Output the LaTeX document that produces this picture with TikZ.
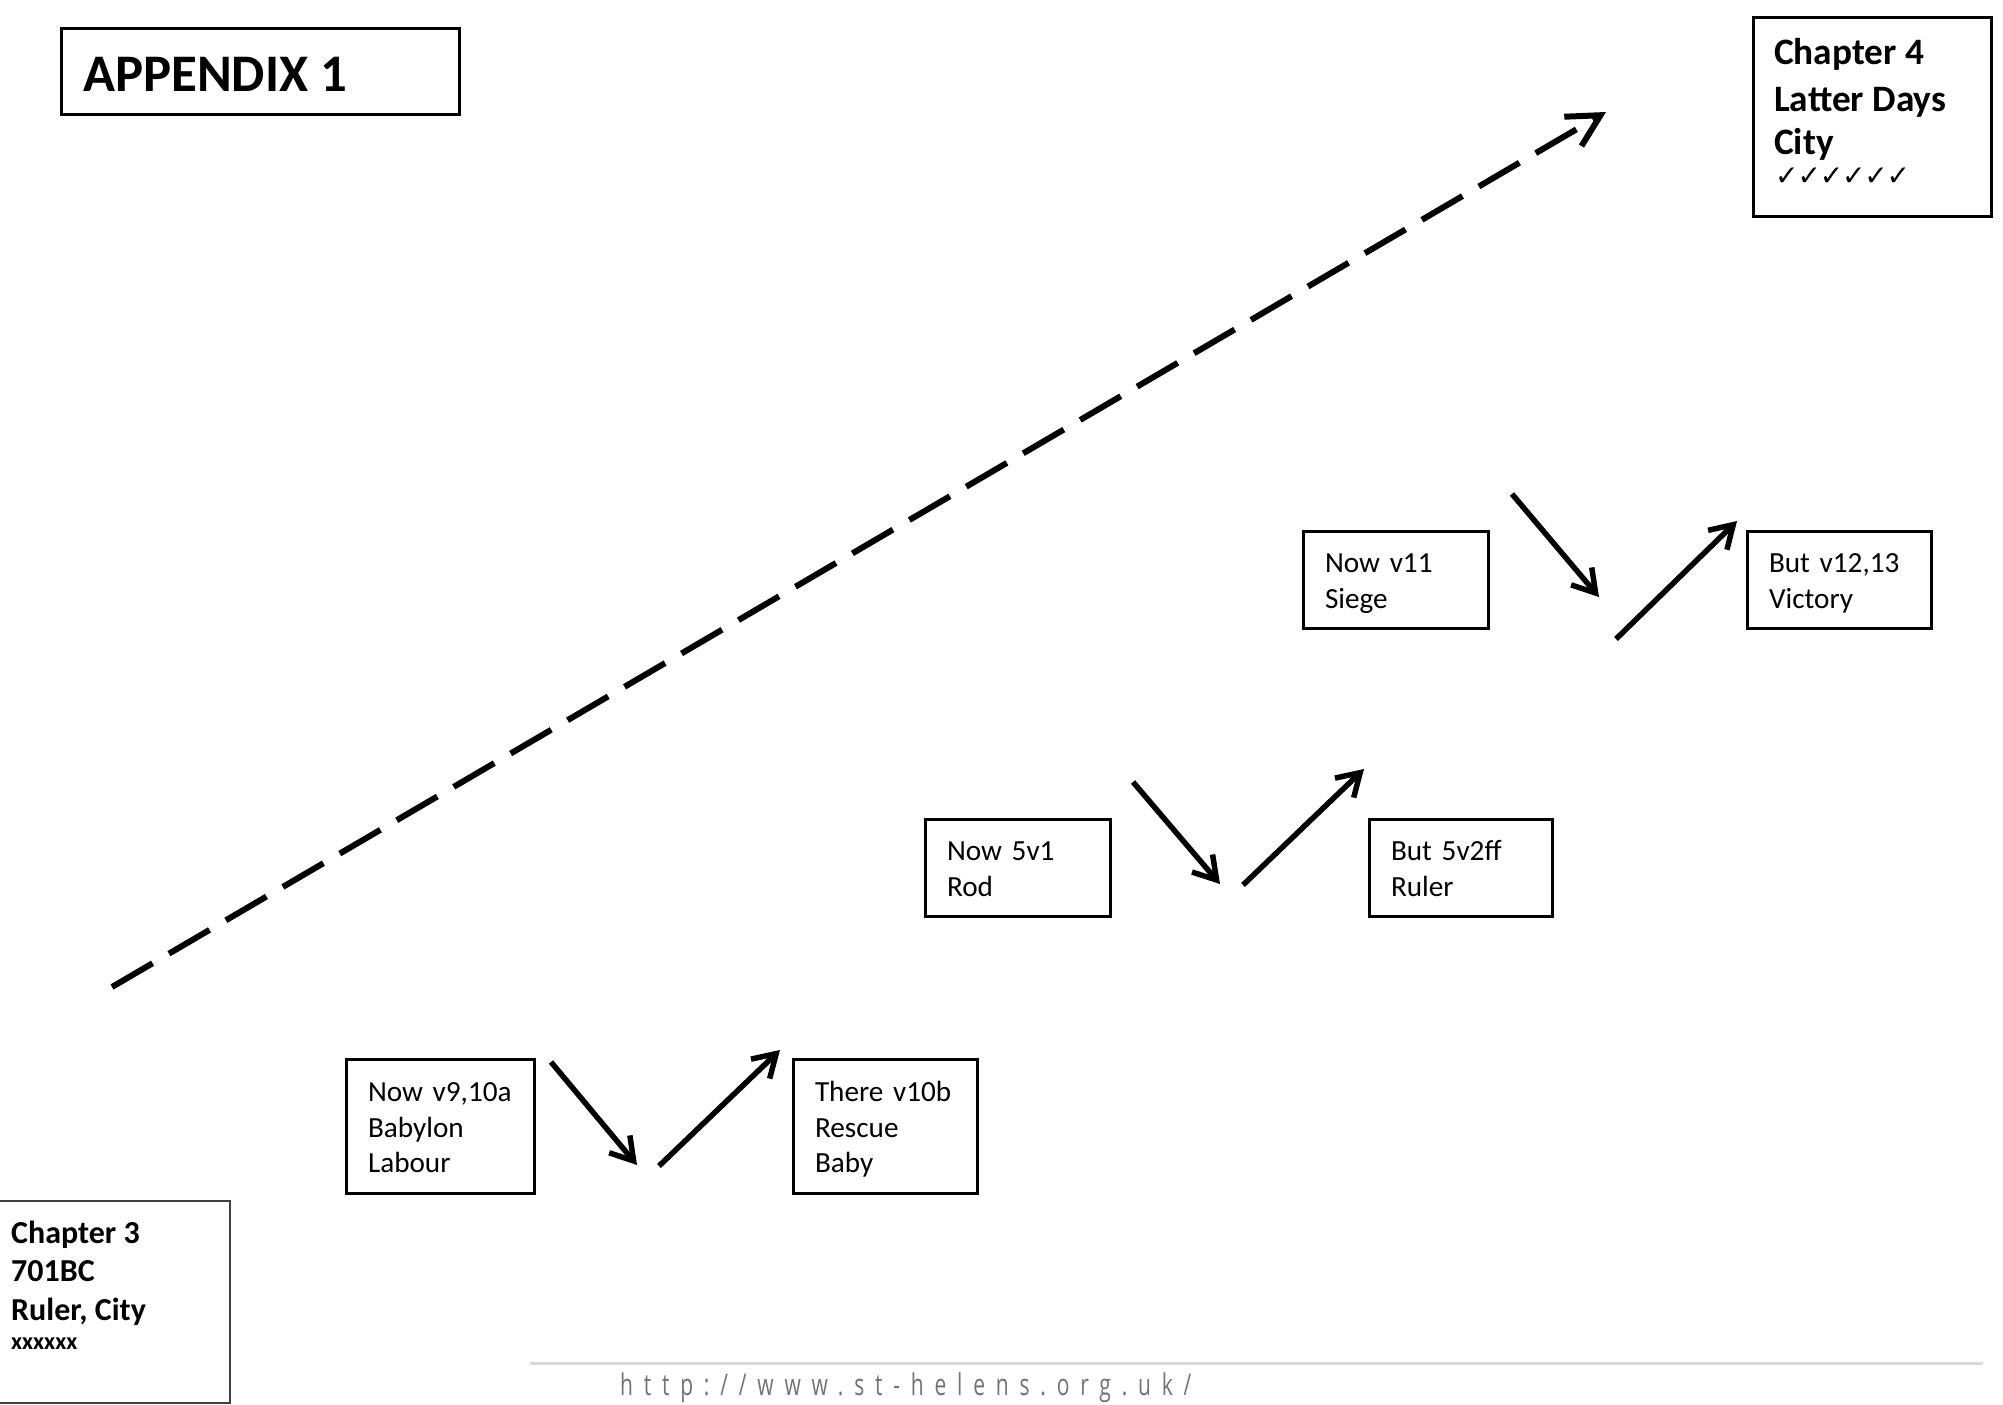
\documentclass[tikz,border=0pt]{standalone}
\usepackage{fontspec}
\setmainfont{Carlito}
\newfontfamily\symfont{DejaVu Sans}
\newfontfamily\footfont[FakeStretch=0.7,LetterSpace=36]{Open Sans}
\usetikzlibrary{arrows.meta}
\definecolor{footgray}{gray}{0.45}
\definecolor{rulegray}{gray}{0.85}
\newcommand\firststrut{\rule{0pt}{33pt}}
\newcommand\onecheck{\makebox[22.3pt][l]{✓}}
\begin{document}
\begin{tikzpicture}[x=1pt,y=-1pt,
  vbox/.style={draw, line width=3pt, rectangle, inner xsep=22pt, inner ysep=0pt,
    align=left, anchor=center, font=\fontsize{29.2}{35.6}\selectfont},
  framebox/.style={draw, line width=3pt},
  hdrfour/.style={anchor=base west, inner sep=0pt, font=\bfseries\fontsize{37.3}{45}\selectfont},
  hdrthree/.style={anchor=base west, inner sep=0pt, font=\bfseries\fontsize{32}{38}\selectfont},
  steparrow/.style={line width=5.5pt, -{Straight Barb[length=22pt,width=27pt]}},
  trendarrow/.style={line width=6pt, dash pattern=on 47pt off 19pt,
    -{Straight Barb[length=32pt,width=34pt]}}
]
\useasboundingbox (0,0) rectangle (2003,1405);
\fill[white] (0,0) rectangle (2003,1405);

% title
\draw[framebox] (61,29) rectangle (459,114);
\node[anchor=base west, inner sep=0pt, font=\bfseries\fontsize{52.8}{63}\selectfont] (title) at (83,92) {APPENDIX 1};

% chapter 4
\draw[framebox] (1753,18) rectangle (1991,216);
\node[hdrfour] (c4a) at (1774,65) {Chapter 4};
\node[hdrfour] (c4b) at (1774,111) {Latter Days};
\node[hdrfour] (c4c) at (1774,154) {City};
\node[anchor=base west, inner sep=0pt, font=\symfont\bfseries\fontsize{28}{32}\selectfont] (c4d) at (1775,185)
  {\onecheck\onecheck\onecheck\onecheck\onecheck\onecheck};

% chapter 3
\draw[line width=2.5pt, draw=black!75] (-5,1201) -- (230,1201) -- (230,1403) -- (-5,1403);
\node[hdrthree] (c3a) at (11,1243) {Chapter 3};
\node[hdrthree] (c3b) at (11,1281) {701BC};
\node[hdrthree] (c3c) at (11,1320) {Ruler, City};
\node[anchor=base west, inner sep=0pt, font=\bfseries\fontsize{24}{28}\selectfont] (c3d) at (11,1349) {xxxxxx};

% step boxes
\node[vbox, text width=144pt, minimum height=134pt] (b1) at (440,1126)
  {\firststrut\strut Now v9,10a\\\strut Babylon\\\strut Labour};
\node[vbox, text width=140pt, minimum height=134pt] (b2) at (885,1126)
  {\firststrut\strut There v10b\\\strut Rescue\\\strut Baby};
\node[vbox, text width=141pt, minimum height=97pt] (b3) at (1017.5,867.5)
  {\firststrut\strut Now 5v1\\\strut Rod};
\node[vbox, text width=139pt, minimum height=97pt] (b4) at (1460.5,867.5)
  {\firststrut\strut But 5v2ff\\\strut Ruler};
\node[vbox, text width=141pt, minimum height=97pt] (b5) at (1395.5,579.5)
  {\firststrut\strut Now v11\\\strut Siege};
\node[vbox, text width=140pt, minimum height=97pt] (b6) at (1839,579.5)
  {\firststrut\strut But v12,13\\\strut Victory};

% arrow end points
\coordinate (a1s) at (551,1062); \coordinate (a1e) at (637,1165);
\coordinate (a2s) at (659,1166); \coordinate (a2e) at (780,1050);
\coordinate (a3s) at (1133,782); \coordinate (a3e) at (1220,884);
\coordinate (a4s) at (1243,885); \coordinate (a4e) at (1364,769);
\coordinate (a5s) at (1512,494); \coordinate (a5e) at (1599,597);
\coordinate (a6s) at (1616,639); \coordinate (a6e) at (1737,521);
\coordinate (ds) at (112,987); \coordinate (de) at (1606,112);

\draw[steparrow] (a1s) -- (a1e);
\draw[steparrow] (a2s) -- (a2e);
\draw[steparrow] (a3s) -- (a3e);
\draw[steparrow] (a4s) -- (a4e);
\draw[steparrow] (a5s) -- (a5e);
\draw[steparrow] (a6s) -- (a6e);
\draw[trendarrow] (ds) -- (de);

% footer
\coordinate (fl) at (530,1363); \coordinate (fr) at (1983,1363);
\draw[rulegray, line width=3pt] (fl) -- (fr);
\node[anchor=base west, inner sep=0pt, text=footgray, font=\footfont\fontsize{30}{34}\selectfont] (url) at (620,1395)
  {http://www.st-helens.org.uk/};
\end{tikzpicture}
\end{document}
